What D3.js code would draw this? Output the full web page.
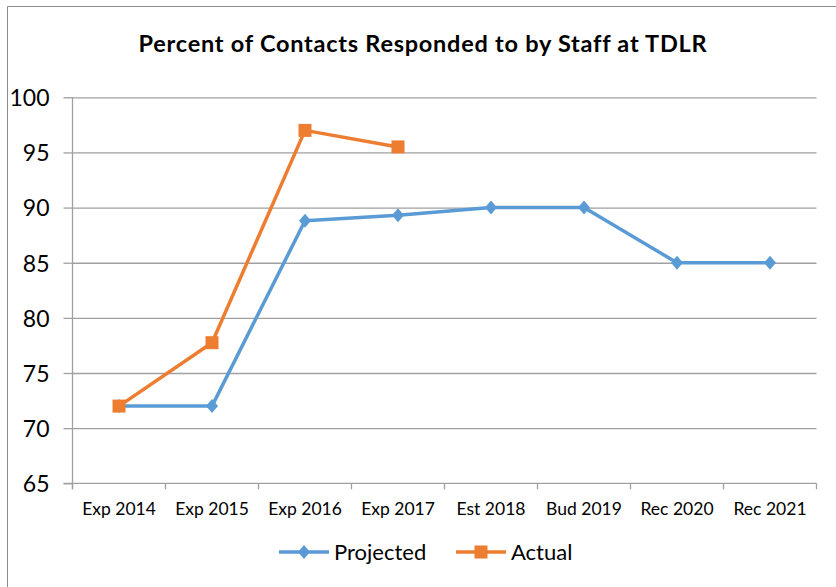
<!DOCTYPE html>
<html>
<head>
<meta charset="utf-8">
<script src="https://cdn.jsdelivr.net/npm/d3@7"></script>
<style>
  body { margin: 0; background: #fff; }
  text { font-family: Lato, "Open Sans", sans-serif; fill: #000; }
</style>
</head>
<body>
<div id="chart"></div>
<script>
// dados
var categorias = ["Exp 2014", "Exp 2015", "Exp 2016", "Exp 2017", "Est 2018", "Bud 2019", "Rec 2020", "Rec 2021"];
var projetado = [72, 72, 88.8, 89.3, 90, 90, 85, 85];
var real = [72, 77.75, 97, 95.5];
var yTicks = [65, 70, 75, 80, 85, 90, 95, 100];
var titulo = "Percent of Contacts Responded to by Staff at TDLR";
var nomes = ["Projected", "Actual"];

var svgWidth = 836, svgHeight = 587;
var margin = { top: 97.3, right: 19.5, bottom: 103.7, left: 72.5 };
var width = svgWidth - margin.left - margin.right;
var height = svgHeight - margin.top - margin.bottom;

var svg = d3.select("#chart").append("svg")
    .attr("width", svgWidth)
    .attr("height", svgHeight);

// moldura
svg.append("path")
    .attr("fill", "none")
    .attr("stroke", "#8c8c8c")
    .attr("stroke-width", 1)
    .attr("d", "M 7.5," + svgHeight + " L 7.5,6.5 " + svgWidth + ",6.5");

svg.append("text")
    .attr("x", 423)
    .attr("y", 52)
    .attr("text-anchor", "middle")
    .style("font-weight", "bold")
    .style("font-size", "23.5px")
    .style("letter-spacing", "0.75px")
    .text(titulo);

var g = svg.append("g")
    .attr("transform", "translate(" + margin.left + "," + margin.top + ")");

var x = d3.scaleBand().domain(categorias).range([0, width]).padding(0);
var y = d3.scaleLinear().domain([65, 100]).range([height, 0]);

// grade
g.append("g")
    .call(d3.axisLeft(y).tickValues(yTicks.slice(1)).tickSize(-width).tickFormat(""))
    .call(s => s.select(".domain").remove())
    .selectAll("line").attr("stroke", "#a0a0a0").attr("stroke-width", 1.3);

// eixo y
var yAxis = g.append("g")
    .call(d3.axisLeft(y).tickValues(yTicks).tickSize(9).tickPadding(14).tickSizeOuter(0));
yAxis.select(".domain").remove();
yAxis.selectAll("line").attr("stroke", "#a0a0a0").attr("stroke-width", 1.3);
yAxis.selectAll("text").style("font-size", "23px").attr("dy", "0.36em");

g.append("line")
    .attr("x1", 0).attr("x2", 0)
    .attr("y1", 0).attr("y2", height + 6)
    .attr("stroke", "#a0a0a0").attr("stroke-width", 1.3);

// eixo x
var xAxis = g.append("g")
    .attr("transform", "translate(0," + height + ")")
    .call(d3.axisBottom(x).tickSize(0).tickSizeOuter(0));
xAxis.select(".domain").remove();
xAxis.selectAll("text").attr("y", 32).attr("dy", 0).style("font-size", "17.5px");

g.append("line")
    .attr("x1", -9).attr("x2", width)
    .attr("y1", height).attr("y2", height)
    .attr("stroke", "#a0a0a0").attr("stroke-width", 1.3);

var limites = categorias.map(c => x(c)).concat([x.range()[1]]);
g.append("g").selectAll("line")
    .data(limites)
    .enter()
    .append("line")
    .attr("x1", d => d).attr("x2", d => d)
    .attr("y1", height).attr("y2", height + 6)
    .attr("stroke", "#a0a0a0").attr("stroke-width", 1.3);

var cx = (d, i) => x(categorias[i]) + x.bandwidth() / 2;

var line = d3.line()
    .x(cx)
    .y(d => y(d));

var azul = "#5b9bd5", laranja = "#ed7d31";

g.append("path")
    .datum(projetado)
    .attr("fill", "none")
    .attr("stroke", azul)
    .attr("stroke-width", 3.5)
    .attr("stroke-linejoin", "round")
    .attr("d", line);

g.append("path")
    .datum(real)
    .attr("fill", "none")
    .attr("stroke", laranja)
    .attr("stroke-width", 3.5)
    .attr("stroke-linejoin", "round")
    .attr("d", line);

// losango 12x14
var diamante = "M 0,-7 L 6,0 0,7 -6,0 Z";

g.append("g").selectAll("path")
    .data(projetado)
    .enter()
    .append("path")
    .attr("fill", azul)
    .attr("transform", (d, i) => "translate(" + cx(d, i) + "," + y(d) + ")")
    .attr("d", diamante);

g.append("g").selectAll("rect")
    .data(real)
    .enter()
    .append("rect")
    .attr("fill", laranja)
    .attr("x", (d, i) => cx(d, i) - 6.5)
    .attr("y", d => y(d) - 6.5)
    .attr("width", 13)
    .attr("height", 13);

// legenda
var legY = 552;
var leg = svg.append("g");
var itens = [
    { nome: nomes[0], cor: azul, x: 279, tipo: "d" },
    { nome: nomes[1], cor: laranja, x: 456, tipo: "s" }
];
itens.forEach(function (it) {
    leg.append("line")
        .attr("x1", it.x).attr("x2", it.x + 50)
        .attr("y1", legY).attr("y2", legY)
        .attr("stroke", it.cor).attr("stroke-width", 3.5);
    if (it.tipo == "d") {
        leg.append("path")
            .attr("fill", it.cor)
            .attr("transform", "translate(" + (it.x + 25) + "," + legY + ")")
            .attr("d", diamante);
    } else {
        leg.append("rect")
            .attr("fill", it.cor)
            .attr("x", it.x + 25 - 6.5).attr("y", legY - 6.5)
            .attr("width", 13).attr("height", 13);
    }
    leg.append("text")
        .attr("x", it.x + 55)
        .attr("y", legY + 7.5)
        .style("font-size", "22px")
        .text(it.nome);
});
</script>
</body>
</html>
